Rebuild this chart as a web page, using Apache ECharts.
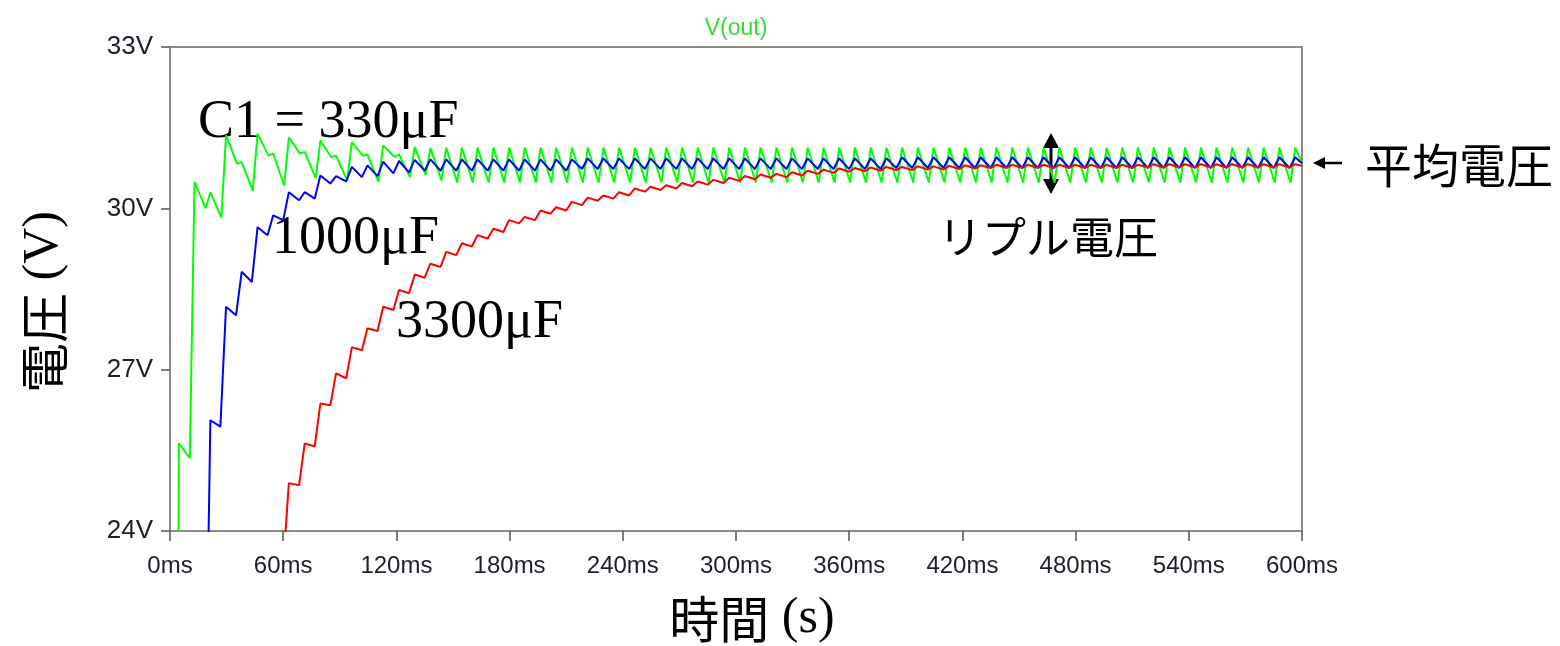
<!DOCTYPE html>
<html lang="ja">
<head>
    <meta charset="UTF-8">
    <title>V(out)</title>
    <script src="https://cdn.jsdelivr.net/npm/echarts@6/dist/echarts.min.js"></script>
    <style>
        html, body {
            margin: 0;
            padding: 0;
            background: #fff;
        }

        #main {
            width: 1560px;
            height: 646px;
        }
    </style>
</head>
<body>
<div id="main"></div>

<script type="text/javascript">
    // 充電パルスのピーク時刻 (ms)
    var peakT = [
        4.7, 13.0, 21.4, 29.7, 38.0, 46.4, 54.7, 63.0, 71.4, 79.7, 88.0, 96.4,
        104.7, 113.0, 121.4, 129.7, 138.0, 146.4, 154.7, 163.0, 171.4, 179.7, 188.0, 196.4,
        204.7, 213.0, 221.4, 229.7, 238.0, 246.4, 254.7, 263.0, 271.4, 279.7, 288.0, 296.4,
        304.7, 313.0, 321.4, 329.7, 338.0, 346.4, 354.7, 363.0, 371.4, 379.7, 388.0, 396.4,
        404.7, 413.0, 421.4, 429.7, 438.0, 446.4, 454.7, 463.0, 471.4, 479.7, 488.0, 496.4,
        504.7, 513.0, 521.4, 529.7, 538.0, 546.4, 554.7, 563.0, 571.4, 579.7, 588.0, 596.4
    ];

    // C1 = 330uF (緑)
    var greenLo = [
        0, 25.36, 30.00, 29.83, 30.83, 30.33, 30.98, 30.43, 31.02, 30.56, 30.95, 30.52,
        30.98, 30.49, 30.96, 30.58, 30.62, 30.52, 30.48, 30.48, 30.48, 30.48, 30.48, 30.48,
        30.48, 30.48, 30.48, 30.48, 30.48, 30.48, 30.48, 30.48, 30.48, 30.48, 30.48, 30.48,
        30.48, 30.48, 30.48, 30.48, 30.48, 30.48, 30.48, 30.48, 30.48, 30.48, 30.48, 30.48,
        30.48, 30.48, 30.48, 30.48, 30.48, 30.48, 30.48, 30.48, 30.48, 30.48, 30.48, 30.48,
        30.48, 30.48, 30.48, 30.48, 30.48, 30.48, 30.48, 30.48, 30.48, 30.48, 30.48, 30.48
    ];
    var greenHi = [
        25.63, 30.49, 30.30, 31.36, 30.86, 31.39, 31.02, 31.32, 31.05, 31.26, 30.98, 31.23,
        31.00, 31.17, 31.00, 31.14, 31.12, 31.13, 31.13, 31.13, 31.13, 31.13, 31.13, 31.13,
        31.13, 31.13, 31.13, 31.13, 31.13, 31.13, 31.13, 31.13, 31.13, 31.13, 31.13, 31.13,
        31.13, 31.13, 31.13, 31.13, 31.13, 31.13, 31.13, 31.13, 31.13, 31.13, 31.13, 31.13,
        31.13, 31.13, 31.13, 31.13, 31.13, 31.13, 31.13, 31.13, 31.13, 31.13, 31.13, 31.13,
        31.13, 31.13, 31.13, 31.13, 31.13, 31.13, 31.13, 31.13, 31.13, 31.13, 31.13, 31.13
    ];

    // 1000uF (青)
    var blueLo = [
        0, 8.9, 19.4, 25.94, 28.01, 28.63, 29.50, 29.78, 30.15, 30.18, 30.46, 30.50,
        30.58, 30.60, 30.65, 30.67, 30.70, 30.70, 30.70, 30.70, 30.70, 30.70, 30.70, 30.70,
        30.70, 30.70, 30.73, 30.73, 30.73, 30.73, 30.73, 30.73, 30.73, 30.73, 30.73, 30.73,
        30.73, 30.73, 30.73, 30.73, 30.73, 30.73, 30.73, 30.73, 30.73, 30.73, 30.75, 30.75,
        30.75, 30.75, 30.75, 30.75, 30.75, 30.75, 30.75, 30.75, 30.75, 30.75, 30.75, 30.75,
        30.75, 30.75, 30.75, 30.75, 30.75, 30.75, 30.75, 30.75, 30.75, 30.75, 30.75, 30.75
    ];
    var blueHi = [
        9.0, 19.5, 26.06, 28.17, 28.82, 29.65, 29.87, 30.30, 30.30, 30.61, 30.60, 30.77,
        30.80, 30.87, 30.88, 30.90, 30.91, 30.91, 30.91, 30.91, 30.91, 30.91, 30.91, 30.91,
        30.91, 30.91, 30.93, 30.93, 30.93, 30.93, 30.93, 30.93, 30.93, 30.93, 30.93, 30.93,
        30.93, 30.93, 30.93, 30.93, 30.93, 30.93, 30.93, 30.93, 30.93, 30.93, 30.95, 30.95,
        30.95, 30.95, 30.95, 30.95, 30.95, 30.95, 30.95, 30.95, 30.95, 30.95, 30.95, 30.95,
        30.95, 30.95, 30.95, 30.95, 30.95, 30.95, 30.95, 30.95, 30.95, 30.95, 30.95, 30.95
    ];

    // 3300uF (赤)
    var redLo = [
        0, 5.4, 10.2, 14.1, 17.2, 19.7, 21.7, 23.35, 24.85, 25.57, 26.34, 26.84,
        27.36, 27.72, 28.11, 28.42, 28.71, 28.91, 29.13, 29.29, 29.44, 29.56, 29.72, 29.78,
        29.90, 29.96, 30.06, 30.14, 30.18, 30.24, 30.31, 30.34, 30.37, 30.41, 30.44, 30.47,
        30.51, 30.54, 30.57, 30.58, 30.61, 30.64, 30.66, 30.68, 30.69, 30.70, 30.71, 30.71,
        30.72, 30.72, 30.73, 30.74, 30.75, 30.75, 30.75, 30.75, 30.75, 30.75, 30.75, 30.75,
        30.75, 30.75, 30.76, 30.76, 30.76, 30.76, 30.76, 30.76, 30.76, 30.76, 30.76, 30.76
    ];
    var redHi = [
        5.5, 10.3, 14.2, 17.3, 19.8, 21.8, 23.4, 24.89, 25.63, 26.37, 26.93, 27.42,
        27.77, 28.17, 28.48, 28.77, 28.97, 29.19, 29.35, 29.50, 29.62, 29.78, 29.84, 29.96,
        30.02, 30.12, 30.20, 30.24, 30.30, 30.37, 30.40, 30.43, 30.47, 30.50, 30.53, 30.57,
        30.60, 30.63, 30.64, 30.67, 30.70, 30.72, 30.74, 30.75, 30.76, 30.77, 30.77, 30.78,
        30.78, 30.79, 30.80, 30.80, 30.81, 30.81, 30.81, 30.81, 30.81, 30.81, 30.81, 30.81,
        30.81, 30.81, 30.82, 30.82, 30.82, 30.82, 30.82, 30.82, 30.82, 30.82, 30.82, 30.82
    ];

    // 充電にかかる時間 (ms) 緑・青・赤
    var riseMs = [2.5, 3.0, 3.0];
    // 600ms での値
    var endV = [30.85, 30.84, 30.79];

    var xTicks = [0, 60, 120, 180, 240, 300, 360, 420, 480, 540, 600];
    var yTicks = [24, 27, 30, 33];

    function wave(lo, hi, rise, last) {
        var pts = [[0, 0]];
        for (var k = 0; k < peakT.length; k++) {
            pts.push([peakT[k] - rise, lo[k]]);
            pts.push([peakT[k], hi[k]]);
        }
        pts.push([xTicks[xTicks.length - 1], last]);
        return pts;
    }

    var myChart = echarts.init(document.getElementById('main'));

    var jp = '"Noto Sans CJK JP"';
    var serif = '"Liberation Serif"';
    var sans = '"Liberation Sans", Arial';

    function txt(x, y, text, font, align) {
        return {
            type: 'text', x: x, y: y, silent: true,
            style: {
                text: text, font: font, fill: '#000',
                align: align, textAlign: align,
                verticalAlign: 'middle', textVerticalAlign: 'middle'
            }
        };
    }

    var option = {
        animation: false,
        backgroundColor: '#fff',
        grid: {
            left: 170, right: 258, top: 47, bottom: 115,
            show: true, borderColor: '#8a8a8a', borderWidth: 2
        },
        xAxis: {
            type: 'value',
            min: xTicks[0], max: xTicks[xTicks.length - 1], interval: 60,
            axisLine: {lineStyle: {color: '#8a8a8a', width: 2}},
            axisTick: {length: 10, lineStyle: {color: '#555', width: 1.5}},
            axisLabel: {
                formatter: '{value}ms', margin: 23,
                color: '#1e1e2a', fontSize: 24, fontFamily: sans
            },
            splitLine: {show: false}
        },
        yAxis: {
            type: 'value',
            min: yTicks[0], max: yTicks[yTicks.length - 1], interval: 3,
            axisLine: {show: true, lineStyle: {color: '#8a8a8a', width: 2}},
            axisTick: {show: true, length: 9, lineStyle: {color: '#555', width: 1.5}},
            axisLabel: {
                formatter: '{value}V', margin: 17,
                color: '#1e1e2a', fontSize: 26, fontFamily: sans
            },
            splitLine: {show: false}
        },
        series: [{
            name: '330uF', type: 'line', showSymbol: false, clip: true,
            lineStyle: {color: '#00ff00', width: 2},
            data: wave(greenLo, greenHi, riseMs[0], endV[0])
        }, {
            name: '1000uF', type: 'line', showSymbol: false, clip: true,
            lineStyle: {color: '#0000ff', width: 2},
            data: wave(blueLo, blueHi, riseMs[1], endV[1])
        }, {
            name: '3300uF', type: 'line', showSymbol: false, clip: true,
            lineStyle: {color: '#ff0000', width: 2},
            data: wave(redLo, redHi, riseMs[2], endV[2])
        }],
        graphic: [
            {
                type: 'text', x: 736, y: 29, silent: true,
                style: {
                    text: 'V(out)', font: '23px ' + sans, fill: '#33dd33',
                    align: 'center', textAlign: 'center',
                    verticalAlign: 'middle', textVerticalAlign: 'middle'
                }
            },
            {
                type: 'text', x: 44, y: 302, rotation: Math.PI / 2, silent: true,
                style: {
                    text: '{a|電圧}{b|\u00a0(V)}', fill: '#000',
                    align: 'center', textAlign: 'center',
                    verticalAlign: 'middle', textVerticalAlign: 'middle',
                    rich: {
                        a: {font: '50px ' + jp, fill: '#000'},
                        b: {font: '50px ' + serif, fill: '#000'}
                    }
                }
            },
            {
                type: 'text', x: 752, y: 619, silent: true,
                style: {
                    text: '{a|時間}{b|\u00a0(s)}', fill: '#000',
                    align: 'center', textAlign: 'center',
                    verticalAlign: 'middle', textVerticalAlign: 'middle',
                    rich: {
                        a: {font: '50px ' + jp, fill: '#000'},
                        b: {font: '50px ' + serif, fill: '#000'}
                    }
                }
            },
            txt(198, 123, 'C1 = 330μF', '54px ' + serif, 'left'),
            txt(272, 239, '1000μF', '54px ' + serif, 'left'),
            txt(396, 323, '3300μF', '54px ' + serif, 'left'),
            txt(938, 237, 'リプル電圧', '44px ' + jp, 'left'),
            txt(1365, 165, '平均電圧', '47px ' + jp, 'left'),
            // 平均電圧の矢印
            {
                type: 'line', silent: true,
                shape: {x1: 1322, y1: 163, x2: 1342, y2: 163},
                style: {stroke: '#000', lineWidth: 2.5}
            },
            {
                type: 'polygon', silent: true,
                shape: {points: [[1313, 163], [1325, 157], [1325, 169]]},
                style: {fill: '#000'}
            },
            // リプル電圧の両矢印
            {
                type: 'line', silent: true,
                shape: {x1: 1051, y1: 145, x2: 1051, y2: 182},
                style: {stroke: '#000', lineWidth: 3}
            },
            {
                type: 'polygon', silent: true,
                shape: {points: [[1051, 133], [1043, 148], [1059, 148]]},
                style: {fill: '#000'}
            },
            {
                type: 'polygon', silent: true,
                shape: {points: [[1051, 194], [1043, 179], [1059, 179]]},
                style: {fill: '#000'}
            }
        ]
    };

    myChart.setOption(option);
</script>

</body>
</html>
